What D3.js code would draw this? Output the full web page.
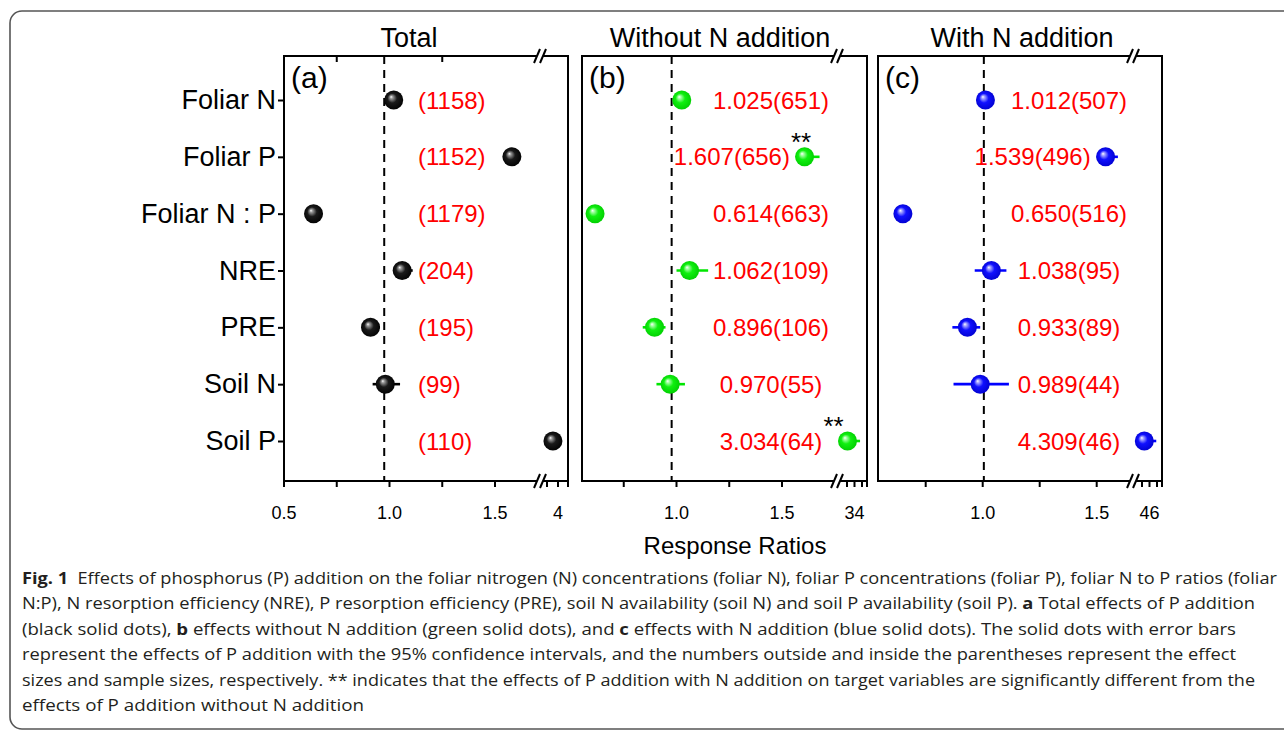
<!DOCTYPE html>
<html><head><meta charset="utf-8">
<script src="https://cdn.jsdelivr.net/npm/d3@7"></script>
<style>body{margin:0;background:#fff} svg{display:block}</style>
</head><body><svg id="chart" width="1284" height="730"></svg>
<script>
// ---------- DATA ----------
const categories = ["Foliar N","Foliar P","Foliar N : P","NRE","PRE","Soil N","Soil P"];
const panelTitles = ["Total","Without N addition","With N addition"];
const panelLetters = ["(a)","(b)","(c)"];

const totalMean = [1.02, 1.58, 0.64, 1.06, 0.91, 0.98, 3.77];
const totalLo   = [1.00, 1.56, 0.63, 1.02, 0.87, 0.92, 3.70];
const totalHi   = [1.04, 1.60, 0.65, 1.11, 0.955, 1.05, 3.85];
const totalN    = [1158, 1152, 1179, 204, 195, 99, 110];

const withoutMean = [1.025, 1.607, 0.614, 1.062, 0.896, 0.970, 3.034];
const withoutLo   = [1.01, 1.566, 0.60, 1.00, 0.84, 0.905, 2.90];
const withoutHi   = [1.04, 1.678, 0.63, 1.15, 0.948, 1.04, 3.87];
const withoutN    = [651, 656, 663, 109, 106, 55, 64];
const withoutSig  = ["", "**", "", "", "", "", "**"];

const withMean = [1.012, 1.539, 0.650, 1.038, 0.933, 0.989, 4.309];
const withLo   = [1.00, 1.50, 0.64, 0.965, 0.867, 0.872, 4.00];
const withHi   = [1.025, 1.593, 0.66, 1.104, 0.989, 1.115, 5.90];
const withN    = [507, 496, 516, 95, 89, 44, 46];

const refLine = [0.975, 0.977, 1.005];

const ticksSeg1 = [[0.5,0.75,1,1.25,1.5],[0.75,1,1.25,1.5],[0.75,1,1.25,1.5]];
const labelsSeg1 = [[0.5,1,1.5],[1,1.5],[1,1.5]];
const ticksSeg2 = [[3.5,4],[3,3.5,4],[4,5,6]];
const labelsSeg2 = [[4],[3,4],[4,6]];
const topTicks = [[0.75,1.25],[],[]];

const xAxisTitle = "Response Ratios";

// ---------- LAYOUT ----------
const svg = d3.select("#chart");
const frameTop = 56, frameBottom = 481;
const panels = [
  {left:284, right:568, breakX:540, s1d:[1,1.5], s1r:[389.5,495], s2d:[3.5,4], s2r:[547,558], titleX:409,
   mean:totalMean, lo:totalLo, hi:totalHi, n:totalN, showEffect:false, sig:null,
   color:"#000", grad:["#ffffff","#9a9a9a","#1a1a1a","#000000"], labelX:418, anchor:"start"},
  {left:582, right:867, breakX:837, s1d:[1,1.5], s1r:[676.5,782], s2d:[3,4], s2r:[847,862], titleX:720,
   mean:withoutMean, lo:withoutLo, hi:withoutHi, n:withoutN, showEffect:true, sig:withoutSig,
   color:"#00e600", grad:["#ffffff","#a8ffa8","#10f010","#00cc00"], labelX:771, anchor:"middle"},
  {left:878, right:1162, breakX:1133, s1d:[1,1.5], s1r:[982.7,1096.7], s2d:[4,6], s2r:[1142,1157], titleX:1022,
   mean:withMean, lo:withLo, hi:withHi, n:withN, showEffect:true, sig:null,
   color:"#0000ff", grad:["#ffffff","#a8a8ff","#1010ff","#0000cc"], labelX:1069, anchor:"middle"}
];

const y = d3.scalePoint().domain(categories).range([100, 441]);
const FONT = "'Liberation Sans', Arial, sans-serif";

// figure border
svg.append("path")
  .attr("d","M1300 11 H22 A12 12 0 0 0 10 23 V717 A12 12 0 0 0 22 729 H1300")
  .attr("fill","none").attr("stroke","#555").attr("stroke-width",1.6);

const defs = svg.append("defs");

panels.forEach((p, pi) => {
  const x1 = d3.scaleLinear().domain(p.s1d).range(p.s1r);
  const x2 = d3.scaleLinear().domain(p.s2d).range(p.s2r);
  const brk = 2;
  const x = v => v > brk ? x2(v) : x1(v);
  const g = svg.append("g");

  // gradient
  const gr = defs.append("radialGradient").attr("id","ball"+pi)
    .attr("cx","50%").attr("cy","50%").attr("r","55%").attr("fx","36%").attr("fy","33%");
  [["0%",0],["14%",1],["45%",2],["100%",3]].forEach(([o,k]) =>
    gr.append("stop").attr("offset",o).attr("stop-color",p.grad[k]));

  // frame with breaks
  const gap = 3;
  const fr = g.append("g").attr("stroke","#000").attr("stroke-width",2).attr("fill","none");
  fr.append("path").attr("d",`M${p.left} ${frameTop} V${frameBottom}`);
  fr.append("path").attr("d",`M${p.right} ${frameTop} V${frameBottom+6}`);
  [frameTop, frameBottom].forEach(yy => {
    fr.append("path").attr("d",`M${p.left-1} ${yy} H${p.breakX-gap} M${p.breakX+gap} ${yy} H${p.right+1}`);
    [-gap, gap].forEach(o => {
      fr.append("path").attr("d",`M${p.breakX+o-3} ${yy+7} L${p.breakX+o+3} ${yy-7}`);
    });
  });

  // bottom ticks
  const tickPath = (xx, len) => `M${xx} ${frameBottom} V${frameBottom+len}`;
  ticksSeg1[pi].forEach(t => fr.append("path").attr("d", tickPath(x1(t), 6)));
  ticksSeg2[pi].forEach(t => fr.append("path").attr("d", tickPath(x2(t), 6)));
  topTicks[pi].forEach(t => fr.append("path").attr("d",`M${x1(t)} ${frameTop} V${frameTop+6}`));

  // tick labels
  labelsSeg1[pi].forEach(t => {
    g.append("text").attr("x", x1(t)).attr("y", frameBottom+38).attr("text-anchor","middle")
      .attr("font-family",FONT).attr("font-size",18).text(d3.format(".1f")(t));
  });
  const l2 = labelsSeg2[pi];
  g.append("text").attr("x", d3.mean(l2, t => x2(t))).attr("y", frameBottom+38).attr("text-anchor","middle")
    .attr("font-family",FONT).attr("font-size",18).text(l2.map(String).join(""));

  // reference dashed line
  g.append("line").attr("x1", x1(refLine[pi])).attr("x2", x1(refLine[pi]))
    .attr("y1", frameTop).attr("y2", frameBottom).attr("stroke","#000").attr("stroke-width",2)
    .attr("stroke-dasharray","8,6");

  // title and letter
  g.append("text").attr("x", p.titleX).attr("y", 47).attr("text-anchor","middle")
    .attr("font-family",FONT).attr("font-size",27).text(panelTitles[pi]);
  g.append("text").attr("x", p.left+7).attr("y", 88)
    .attr("font-family",FONT).attr("font-size",30).text(panelLetters[pi]);

  // error bars
  categories.forEach((c, i) => {
    g.append("line").attr("x1", x(p.lo[i])).attr("x2", x(p.hi[i]))
      .attr("y1", y(c)).attr("y2", y(c)).attr("stroke", p.color).attr("stroke-width",2.6);
  });
  // balls
  g.selectAll("circle.b").data(categories).join("circle")
    .attr("cx", (c,i) => x(p.mean[i])).attr("cy", c => y(c)).attr("r", 9.5)
    .attr("fill", `url(#ball${pi})`);

  // value labels
  categories.forEach((c, i) => {
    const txt = (p.showEffect ? d3.format(".3f")(p.mean[i]) : "") + "(" + p.n[i] + ")";
    const t = g.append("text").attr("y", y(c)).attr("dy","0.36em")
      .attr("font-family",FONT).attr("font-size",24).attr("fill","#ff0000").text(txt);
    const w = t.node().getComputedTextLength();
    let sx = p.anchor === "middle" ? p.labelX - w/2 : p.labelX;
    const mLo = Math.min(x(p.lo[i]), x(p.mean[i]) - 9.5);
    const mHi = Math.max(x(p.hi[i]), x(p.mean[i]) + 9.5);
    if (sx < mHi && sx + w > mLo) sx = x(p.lo[i]) - 6 - w;
    t.attr("x", sx);
    if (p.sig && p.sig[i]) {
      g.append("text").attr("x", sx + w + 1).attr("y", y(c) - 6)
        .attr("font-family",FONT).attr("font-size",26).attr("fill","#000").text(p.sig[i]);
    }
  });

  // y axis on first panel
  if (pi === 0) {
    const ax = g.append("g").attr("transform",`translate(${p.left},0)`)
      .call(d3.axisLeft(y).tickSize(6).tickPadding(2).tickSizeOuter(0));
    ax.select(".domain").remove();
    ax.selectAll("line").attr("stroke","#000").attr("stroke-width",2);
    ax.selectAll("text").attr("font-family",FONT).attr("font-size",27).attr("fill","#000");
  }
});

// x-axis title
svg.append("text").attr("x", 735).attr("y", 554).attr("text-anchor","middle")
  .attr("font-family",FONT).attr("font-size",24).text(xAxisTitle);

// caption
const captionLines = [
  {w:1255, parts:[["Fig. 1",true],["  Effects of phosphorus (P) addition on the foliar nitrogen (N) concentrations (foliar N), foliar P concentrations (foliar P), foliar N to P ratios (foliar",false]]},
  {w:1233, parts:[["N:P), N resorption efficiency (NRE), P resorption efficiency (PRE), soil N availability (soil N) and soil P availability (soil P). ",false],["a",true],[" Total effects of P addition",false]]},
  {w:1214, parts:[["(black solid dots), ",false],["b",true],[" effects without N addition (green solid dots), and ",false],["c",true],[" effects with N addition (blue solid dots). The solid dots with error bars",false]]},
  {w:1214, parts:[["represent the effects of P addition with the 95% confidence intervals, and the numbers outside and inside the parentheses represent the effect",false]]},
  {w:1233, parts:[["sizes and sample sizes, respectively. ** indicates that the effects of P addition with N addition on target variables are significantly different from the",false]]},
  {w:342, parts:[["effects of P addition without N addition",false]]}
];
captionLines.forEach((ln, li) => {
  const t = svg.append("text").attr("x", 22).attr("y", 584 + li*25.4)
    .attr("font-family","'Open Sans', 'Noto Sans', sans-serif").attr("font-size",16)
    .attr("fill","#231f20").style("white-space","pre")
    .attr("textLength", ln.w).attr("lengthAdjust","spacingAndGlyphs");
  ln.parts.forEach(([s,b]) => t.append("tspan").attr("font-weight", b ? 700 : 400).text(s));
});
</script>
</body></html>
